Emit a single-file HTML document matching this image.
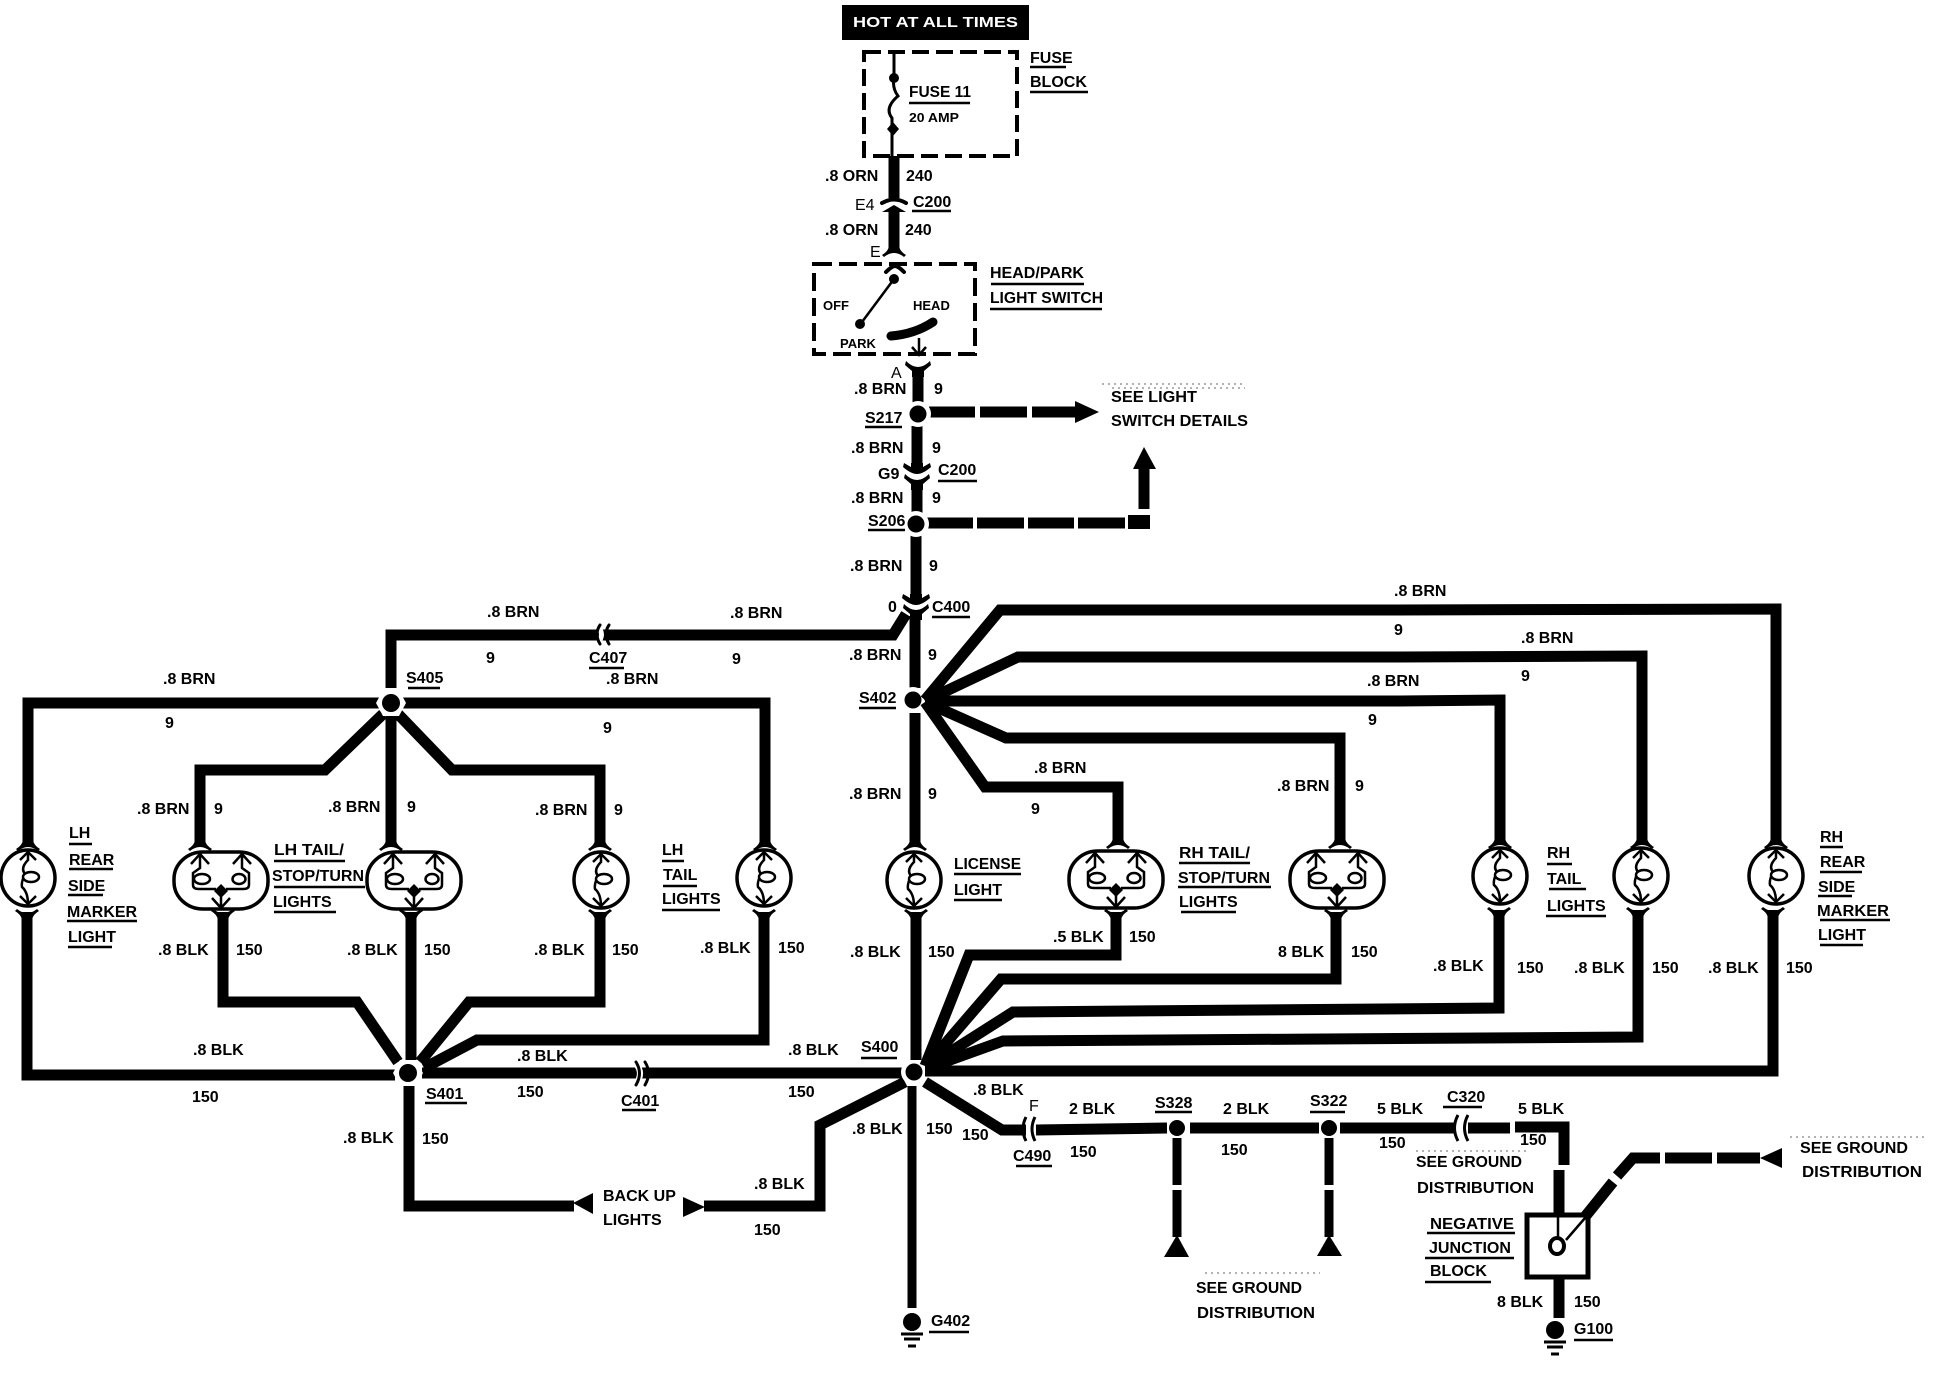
<!DOCTYPE html>
<html><head><meta charset="utf-8"><title>Tail light wiring diagram</title>
<style>
html,body{margin:0;padding:0;background:#fff}
svg{display:block}
text{font-family:"Liberation Sans",sans-serif;font-weight:700;font-size:16px;fill:#000}
.r{font-weight:400}
.s{font-size:13px}
.w{fill:none;stroke:#000;stroke-width:11;stroke-linejoin:miter;stroke-linecap:butt}
.f{fill:none;stroke:#000;stroke-width:4;stroke-linecap:round}
.th{fill:none;stroke:#000;stroke-width:2.5}
</style></head><body>
<svg xmlns="http://www.w3.org/2000/svg" width="1934" height="1376" viewBox="0 0 1934 1376">
<defs>
<g id="lamp"><ellipse cx="0" cy="0" rx="27" ry="28" fill="#fff" stroke="#000" stroke-width="3.5"/>
<path class="th" d="M0,-27V-18Q-8,-10 -3,-4Q-7,4 -6,9Q0,14 0,26M-8,-18L0,-26L8,-18M-8,18L0,26L8,18"/>
<ellipse cx="3" cy="-1" rx="8" ry="5" fill="#fff" stroke="#000" stroke-width="2.5"/></g>
<g id="dbl"><rect x="-47" y="-28" width="94" height="57" rx="29" ry="27" fill="#fff" stroke="#000" stroke-width="3.5"/>
<path class="th" d="M-21,-26V-12L-28,-7V5Q-28,9 -22,9H-5M21,-26V-12L28,-7V5Q28,9 22,9H5M0,16V28M-9,18L0,28L9,18M-30,-16L-21,-26L-12,-16M12,-16L21,-26L30,-16"/>
<ellipse cx="-19" cy="-1" rx="8" ry="5" fill="#fff" stroke="#000" stroke-width="2.5"/>
<ellipse cx="18" cy="-1" rx="6.5" ry="5" fill="#fff" stroke="#000" stroke-width="2.5"/>
<path d="M0,4L7,11L0,18L-7,11Z"/></g>
<path id="ft" d="M-5.5,-8H5.5V-4Q7,0 12,3L10,5Q5,1 0,1Q-5,1 -10,5L-12,3Q-7,0 -5.5,-4Z"/>
<path id="fb" d="M-5.5,8H5.5V4Q7,0 12,-3L10,-5Q5,-1 0,-1Q-5,-1 -10,-5L-12,-3Q-7,0 -5.5,4Z"/>
<path id="bowl" d="M-6,-8H6V-4L13,-8L14,-4Q6,3 0,3Q-6,3 -14,-4L-13,-8L-6,-4Z"/>
<path id="notch" d="M-12,-2Q-6,4 0,4Q6,4 12,-2L13,2L6,8V14H-6V8L-13,2Z"/>
<g id="hub"><circle r="13" fill="#fff"/><circle r="8.5"/></g>
<g id="hex"><polygon points="15,0 8,13 -8,13 -15,0 -8,-13 8,-13" fill="#fff"/><circle r="9"/></g>
<g id="gnd"><ellipse cx="0" cy="0" rx="9" ry="9"/><path d="M-11,12H11M-8,17H8M-4,24H4" stroke="#000" stroke-width="3" fill="none"/></g>
</defs>

<!-- top -->
<rect x="842" y="5" width="187" height="35"/>
<text x="853" y="27" textLength="165" lengthAdjust="spacingAndGlyphs" style="fill:#fff;font-size:15px">HOT AT ALL TIMES</text>
<rect x="864" y="52" width="153" height="104" fill="none" stroke="#000" stroke-width="4" stroke-dasharray="17 7"/>
<path class="th" d="M894,52V78Q892,88 898,96Q884,108 892,118V156" style="stroke-width:3"/>
<circle cx="894" cy="78" r="5"/><path d="M893,122L899,129L893,136L887,129Z"/>
<path class="w" d="M894,156V198M894,212V250"/>
<path class="f" d="M882,203Q894,196 906,203"/><path d="M882,212L894,205L906,212Z"/>
<use href="#ft" x="894" y="252"/>
<rect x="814" y="264" width="161" height="90" fill="none" stroke="#000" stroke-width="4" stroke-dasharray="18 7"/>
<path class="f" d="M886,272Q892,266 895,266Q898,266 904,272"/><circle cx="894" cy="279" r="5"/>
<path d="M894,279L862,322" stroke="#000" stroke-width="2.5" fill="none"/><circle cx="860" cy="324" r="5"/>
<path d="M891,336Q915,334 933,322" stroke="#000" stroke-width="9" fill="none" stroke-linecap="round"/>
<path class="th" d="M919,338V355M912,347L919,355L926,347"/>
<use href="#notch" x="918" y="363"/>
<path class="w" d="M918,370V403M917,426V468"/>
<use href="#bowl" x="917" y="471"/><use href="#notch" x="917" y="476"/>
<path class="w" d="M917,486V513M916,535V598"/>
<use href="#bowl" x="916" y="602"/><use href="#notch" x="916" y="606"/>
<path class="w" d="M915,616V688"/>
<path class="w" d="M391,688V635H893L906,614"/>
<path d="M597,626Q606,634 597,644" fill="none" stroke="#fff" stroke-width="5"/>
<path class="f" d="M600,625Q594,634 600,644M609,625Q603,634 609,644" style="stroke-width:3"/>

<!-- dashed arrows -->
<path class="w" d="M929,412H975M980,412H1027M1032,412H1076"/>
<path d="M1075,401L1099,412L1075,423Z"/>
<path class="w" d="M926,523H973M977,523H1024M1028,523H1074M1078,523H1125"/>
<rect x="1128" y="515" width="22" height="14"/>
<path class="w" d="M1144,509V468"/>
<path d="M1133,469L1144,447L1156,469Z"/>
<g stroke="#999" stroke-width="1.5" stroke-dasharray="2 4">
<path d="M1102,384H1245M1112,388H1245"/>
<path d="M1416,1151H1530M1205,1273H1320M1790,1137H1925"/></g>

<!-- left wires -->
<path class="w" d="M380,703H28V842M402,703H765V842"/>
<path class="w" d="M383,714L325,770H200V842"/>
<path class="w" d="M391,714V842"/>
<path class="w" d="M398,714L452,770H600V842"/>
<path class="w" d="M27,912V1075H395"/>
<path class="w" d="M223,912V1002H357L398,1062"/>
<path class="w" d="M411,912V1060"/>
<path class="w" d="M600,912V1002H469L420,1062"/>
<path class="w" d="M764,912V1040H477L424,1068"/>
<path class="w" d="M422,1073H905"/>
<path d="M636,1064Q644,1073 636,1084" fill="none" stroke="#fff" stroke-width="6"/>
<path class="f" d="M636,1062Q643,1073 636,1085M645,1062Q652,1073 645,1085" style="stroke-width:3"/>
<path class="w" d="M409,1085V1206H574"/>
<path d="M593,1193L573,1203L593,1214Z"/>
<path d="M683,1197L705,1207L683,1217Z"/>
<path class="w" d="M704,1206H820V1125L905,1082"/>

<use href="#hex" x="391" y="703"/>
<use href="#hex" x="408" y="1073"/>
<use href="#hub" x="913" y="700"/>
<use href="#hub" x="918" y="414"/>
<use href="#hub" x="916" y="524"/>
<use href="#hub" x="914" y="1072"/>

<path class="w" d="M915,713V842"/>
<!-- right wires -->
<path class="w" d="M925,700L1000,610H1390L1776,609V843"/>
<path class="w" d="M925,701L1018,657H1400L1642,656V843"/>
<path class="w" d="M925,701H1400L1500,700V843"/>
<path class="w" d="M925,702L1006,738H1340V843"/>
<path class="w" d="M925,702L985,787H1118V843"/>
<path class="w" d="M1116,912V955H969L925,1066"/>
<path class="w" d="M1336,912V979H1001L926,1066"/>
<path class="w" d="M1499,910V1008L1013,1012L928,1066"/>
<path class="w" d="M1638,910V1037L1003,1041L928,1068"/>
<path class="w" d="M1773,910V1071H925"/>
<path class="w" d="M916,912V1060"/>
<path class="w" d="M912,1086V1308" style="stroke-width:9"/>
<path class="w" d="M925,1082L1002,1130H1026"/>
<path class="w" d="M1036,1130L1167,1128M1190,1128H1319M1340,1128H1455M1468,1128H1510M1515,1127H1564V1165M1559,1170V1213"/>
<path d="M1026,1117Q1020,1129 1026,1141M1035,1117Q1029,1129 1035,1141" fill="none" stroke="#000" stroke-width="3"/>
<path d="M1458,1115Q1451,1128 1458,1141M1468,1115Q1461,1128 1468,1141" fill="none" stroke="#000" stroke-width="3"/>
<circle cx="1177" cy="1128" r="8"/><circle cx="1329" cy="1128" r="8"/>
<path class="w" d="M1177,1138V1185M1177,1190V1237M1329,1138V1185M1329,1190V1237" style="stroke-width:9"/>
<path d="M1177,1235L1164,1257H1189Z"/><path d="M1329,1235L1317,1256H1342Z"/>
<rect x="1527" y="1215" width="61" height="62" fill="#fff" stroke="#000" stroke-width="5"/>
<path class="th" d="M1558,1215V1238M1585,1218L1566,1240"/>
<ellipse cx="1557" cy="1246" rx="7" ry="8" fill="#fff" stroke="#000" stroke-width="4"/>
<path class="w" d="M1559,1279V1318"/>
<path class="w" d="M1584,1218L1613,1182M1617,1176L1633,1158H1660M1665,1158H1712M1717,1158H1760"/>
<path d="M1760,1158L1782,1148V1168Z"/>
<use href="#gnd" x="912" y="1322"/>
<use href="#gnd" x="1555" y="1330"/>

<!-- lamps -->
<use href="#lamp" x="28" y="878"/>
<use href="#dbl" x="221" y="880"/>
<use href="#dbl" x="414" y="880"/>
<use href="#lamp" x="601" y="880"/>
<use href="#lamp" x="764" y="878"/>
<use href="#lamp" x="914" y="880"/>
<use href="#dbl" x="1116" y="879"/>
<use href="#dbl" x="1337" y="879"/>
<use href="#lamp" x="1500" y="876"/>
<use href="#lamp" x="1641" y="876"/>
<use href="#lamp" x="1776" y="876"/>
<use href="#ft" x="28" y="846"/><use href="#ft" x="200" y="846"/><use href="#ft" x="391" y="846"/><use href="#ft" x="600" y="846"/><use href="#ft" x="765" y="846"/><use href="#ft" x="915" y="846"/><use href="#ft" x="1118" y="844"/><use href="#ft" x="1340" y="844"/><use href="#ft" x="1500" y="844"/><use href="#ft" x="1642" y="844"/><use href="#ft" x="1776" y="844"/>
<use href="#fb" x="27" y="914"/><use href="#fb" x="223" y="914"/><use href="#fb" x="411" y="914"/><use href="#fb" x="600" y="914"/><use href="#fb" x="764" y="914"/><use href="#fb" x="916" y="914"/><use href="#fb" x="1116" y="914"/><use href="#fb" x="1336" y="914"/><use href="#fb" x="1499" y="912"/><use href="#fb" x="1638" y="912"/><use href="#fb" x="1773" y="912"/>

<!-- underlines -->
<path fill="none" stroke="#000" stroke-width="2.6" d="M1030,67H1066M1030,92H1088M909,103H970M912,211H951M991,284H1084M990,309H1102M865,427H902M938,481H977M868,530H905M932,617H970M589,668H624M859,708H896M408,688H440M69,844H92M69,869H113M68,895H103M67,921H137M68,947H112M274,861H345M274,887H365M274,912H336M662,861H684M663,886H697M662,910H720M622,1110H656M861,1058H897M425,1103H467M1016,1166H1052M1155,1112H1192M1310,1112H1345M1443,1107H1482M1427,1233H1515M1425,1258H1514M1425,1282H1491M929,1332H969M1574,1340H1613M954,874H1021M954,900H1002M1179,863H1250M1178,887H1271M1181,912H1236M1547,864H1572M1549,889H1586M1546,916H1606M1820,847H1843M1820,872H1862M1818,896H1852M1820,920H1890M1820,945H1863"/>

<!-- labels -->
<text x="1030" y="63">FUSE</text><text x="1030" y="87">BLOCK</text>
<text x="909" y="97" textLength="62" lengthAdjust="spacingAndGlyphs">FUSE 11</text>
<text x="909" y="122" class="s" textLength="50" lengthAdjust="spacingAndGlyphs">20 AMP</text>
<text x="825" y="181">.8 ORN</text><text x="906" y="181">240</text>
<text x="855" y="210" class="r">E4</text><text x="913" y="207">C200</text>
<text x="825" y="235">.8 ORN</text><text x="905" y="235">240</text>
<text x="870" y="257" class="r">E</text>
<text x="990" y="278" textLength="94" lengthAdjust="spacingAndGlyphs">HEAD/PARK</text>
<text x="990" y="303" textLength="113" lengthAdjust="spacingAndGlyphs">LIGHT SWITCH</text>
<text x="823" y="310" class="s">OFF</text><text x="913" y="310" class="s">HEAD</text><text x="840" y="348" class="s">PARK</text>
<text x="891" y="378" class="r">A</text>
<text x="854" y="394">.8 BRN</text><text x="934" y="394">9</text>
<text x="865" y="423">S217</text>
<text x="851" y="453">.8 BRN</text><text x="932" y="453">9</text>
<text x="878" y="479">G9</text><text x="938" y="475">C200</text>
<text x="851" y="503">.8 BRN</text><text x="932" y="503">9</text>
<text x="868" y="526">S206</text>
<text x="850" y="571">.8 BRN</text><text x="929" y="571">9</text>
<text x="888" y="612">0</text><text x="932" y="612">C400</text>
<text x="487" y="617">.8 BRN</text><text x="486" y="663">9</text>
<text x="589" y="663">C407</text>
<text x="730" y="618">.8 BRN</text><text x="732" y="664">9</text>
<text x="849" y="660">.8 BRN</text><text x="928" y="660">9</text>
<text x="859" y="703">S402</text>
<text x="1394" y="596">.8 BRN</text><text x="1394" y="635">9</text>
<text x="1521" y="643">.8 BRN</text><text x="1521" y="681">9</text>
<text x="1367" y="686">.8 BRN</text><text x="1368" y="725">9</text>
<text x="1034" y="773">.8 BRN</text><text x="1031" y="814">9</text>
<text x="1277" y="791">.8 BRN</text><text x="1355" y="791">9</text>
<text x="849" y="799">.8 BRN</text><text x="928" y="799">9</text>
<text x="163" y="684">.8 BRN</text><text x="165" y="728">9</text>
<text x="406" y="683">S405</text>
<text x="606" y="684">.8 BRN</text><text x="603" y="733">9</text>
<text x="137" y="814">.8 BRN</text><text x="214" y="814">9</text>
<text x="328" y="812">.8 BRN</text><text x="407" y="812">9</text>
<text x="535" y="815">.8 BRN</text><text x="614" y="815">9</text>
<text x="69" y="838">LH</text><text x="69" y="865">REAR</text><text x="68" y="891">SIDE</text><text x="67" y="917" textLength="70" lengthAdjust="spacingAndGlyphs">MARKER</text><text x="68" y="942">LIGHT</text>
<text x="274" y="855" textLength="70" lengthAdjust="spacingAndGlyphs">LH TAIL/</text><text x="272" y="881" textLength="92" lengthAdjust="spacingAndGlyphs">STOP/TURN</text><text x="273" y="907">LIGHTS</text>
<text x="662" y="855">LH</text><text x="663" y="880">TAIL</text><text x="662" y="904">LIGHTS</text>
<text x="158" y="955">.8 BLK</text><text x="236" y="955">150</text>
<text x="347" y="955">.8 BLK</text><text x="424" y="955">150</text>
<text x="534" y="955">.8 BLK</text><text x="612" y="955">150</text>
<text x="700" y="953">.8 BLK</text><text x="778" y="953">150</text>
<text x="193" y="1055">.8 BLK</text><text x="192" y="1102">150</text>
<text x="517" y="1061">.8 BLK</text><text x="517" y="1097">150</text>
<text x="621" y="1106">C401</text>
<text x="788" y="1055">.8 BLK</text><text x="788" y="1097">150</text>
<text x="861" y="1052">S400</text>
<text x="426" y="1099">S401</text>
<text x="343" y="1143">.8 BLK</text><text x="422" y="1144">150</text>
<text x="852" y="1134">.8 BLK</text><text x="926" y="1134">150</text>
<text x="962" y="1140">150</text>
<text x="973" y="1095">.8 BLK</text><text x="1029" y="1111" class="r">F</text>
<text x="1013" y="1161">C490</text>
<text x="754" y="1189">.8 BLK</text><text x="754" y="1235">150</text>
<text x="603" y="1201">BACK UP</text><text x="603" y="1225">LIGHTS</text>
<text x="1069" y="1114">2 BLK</text><text x="1070" y="1157">150</text>
<text x="1155" y="1108">S328</text>
<text x="1223" y="1114">2 BLK</text><text x="1221" y="1155">150</text>
<text x="1310" y="1106">S322</text>
<text x="1377" y="1114">5 BLK</text><text x="1379" y="1148">150</text>
<text x="1447" y="1102">C320</text>
<text x="1518" y="1114">5 BLK</text><text x="1520" y="1145">150</text>
<text x="1416" y="1167" textLength="106" lengthAdjust="spacingAndGlyphs">SEE GROUND</text><text x="1417" y="1193" textLength="117" lengthAdjust="spacingAndGlyphs">DISTRIBUTION</text>
<text x="1430" y="1229" textLength="84" lengthAdjust="spacingAndGlyphs">NEGATIVE</text><text x="1429" y="1253" textLength="82" lengthAdjust="spacingAndGlyphs">JUNCTION</text><text x="1430" y="1276">BLOCK</text>
<text x="1196" y="1293" textLength="106" lengthAdjust="spacingAndGlyphs">SEE GROUND</text><text x="1197" y="1318" textLength="118" lengthAdjust="spacingAndGlyphs">DISTRIBUTION</text>
<text x="931" y="1326">G402</text><text x="1574" y="1334">G100</text>
<text x="1497" y="1307">8 BLK</text><text x="1574" y="1307">150</text>
<text x="954" y="869" textLength="67" lengthAdjust="spacingAndGlyphs">LICENSE</text><text x="954" y="895">LIGHT</text>
<text x="1179" y="858" textLength="71" lengthAdjust="spacingAndGlyphs">RH TAIL/</text><text x="1178" y="883" textLength="92" lengthAdjust="spacingAndGlyphs">STOP/TURN</text><text x="1179" y="907">LIGHTS</text>
<text x="850" y="957">.8 BLK</text><text x="928" y="957">150</text>
<text x="1053" y="942">.5 BLK</text><text x="1129" y="942">150</text>
<text x="1278" y="957">8 BLK</text><text x="1351" y="957">150</text>
<text x="1433" y="971">.8 BLK</text><text x="1517" y="973">150</text>
<text x="1574" y="973">.8 BLK</text><text x="1652" y="973">150</text>
<text x="1708" y="973">.8 BLK</text><text x="1786" y="973">150</text>
<text x="1547" y="858">RH</text><text x="1547" y="884">TAIL</text><text x="1547" y="911">LIGHTS</text>
<text x="1820" y="842">RH</text><text x="1820" y="867">REAR</text><text x="1818" y="892">SIDE</text><text x="1817" y="916" textLength="72" lengthAdjust="spacingAndGlyphs">MARKER</text><text x="1818" y="940">LIGHT</text>
<text x="1111" y="402" textLength="86" lengthAdjust="spacingAndGlyphs">SEE LIGHT</text><text x="1111" y="426" textLength="137" lengthAdjust="spacingAndGlyphs">SWITCH DETAILS</text>
<text x="1800" y="1153" textLength="108" lengthAdjust="spacingAndGlyphs">SEE GROUND</text><text x="1802" y="1177" textLength="120" lengthAdjust="spacingAndGlyphs">DISTRIBUTION</text>
</svg>
</body></html>
